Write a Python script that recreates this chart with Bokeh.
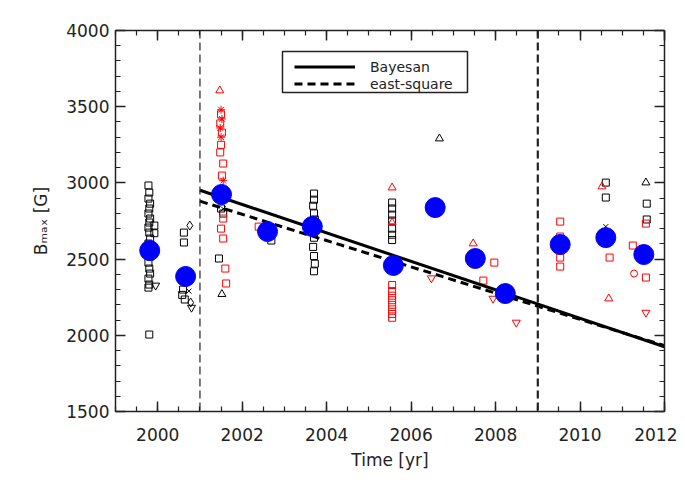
from bokeh.plotting import figure
from bokeh.models import (Range1d, LinearAxis, SingleIntervalTicker, CustomJSTickFormatter,
                          Legend, LegendItem, Span, BoxAnnotation)
from bokeh.embed import file_html
from bokeh.resources import INLINE

# ---------------- data ----------------
# yearly means (blue)
mean_x = [1999.81, 2000.66, 2001.51, 2002.60, 2003.66, 2005.58, 2006.57, 2007.52, 2008.23, 2009.53, 2010.61, 2011.51]
mean_y = [2556, 2386, 2924, 2681, 2714, 2458, 2838, 2504, 2274, 2596, 2641, 2530]

# black squares
bsq_x = [1999.78, 1999.80, 1999.78, 1999.82, 1999.80, 1999.78, 1999.82, 1999.80, 1999.78, 1999.80,
         1999.82, 1999.78, 1999.80, 1999.82, 1999.78, 1999.80, 1999.82, 1999.78, 1999.80, 1999.78,
         1999.80, 1999.92, 1999.92,
         2000.62, 2000.62, 2000.60, 2000.58, 2000.64,
         2001.50, 2001.55, 2001.45,
         2002.69,
         2003.70, 2003.70, 2003.68, 2003.70, 2003.72, 2003.70, 2003.68, 2003.70, 2003.72, 2003.70,
         2005.55, 2005.55, 2005.55, 2005.55, 2005.55, 2005.55, 2005.55,
         2010.61, 2010.61,
         2011.58, 2011.58]
bsq_y = [2983, 2937, 2897, 2864, 2832, 2799, 2766, 2740, 2707, 2674,
         2635, 2602, 2556, 2517, 2477, 2438, 2405, 2372, 2333, 2313,
         2005, 2720, 2670,
         2674, 2609, 2300, 2265, 2235,
         2832, 2799, 2504,
         2622,
         2930, 2890, 2850, 2800, 2760, 2640, 2580, 2520, 2470, 2420,
         2871, 2832, 2792, 2753, 2700, 2660, 2625,
         3002, 2904,
         2864, 2760]

# black triangles
btri_x = [2001.52, 2006.67, 2011.56]
btri_y = [2270, 3291, 3002]
# black inverted triangles
binv_x = [1999.95, 2000.80]
binv_y = [2327, 2182]
# black diamonds
bdia_x = [2000.76, 2000.78]
bdia_y = [2720, 2215]
# black crosses
bx_x = [2000.74, 2001.55, 2010.61]
bx_y = [2290, 2830, 2713]

# red squares
rsq_x = [2001.50, 2001.48, 2001.52, 2001.50, 2001.48, 2001.55, 2001.52,
         2001.55, 2001.50, 2001.55, 2001.60, 2001.62,
         2002.39,
         2005.55, 2005.55, 2005.55, 2005.55, 2005.55, 2005.55, 2005.55, 2005.55,
         2007.97, 2007.71,
         2009.53, 2009.53, 2009.53, 2009.53,
         2010.70,
         2011.56, 2011.25, 2011.56]
rsq_y = [3450, 3390, 3330, 3250, 3200, 3127, 3048,
         2766, 2700, 2635, 2438, 2340,
         2713,
         2330, 2290, 2260, 2230, 2200, 2170, 2140, 2115,
         2477, 2359,
         2746, 2648, 2510, 2451,
         2510,
         2733, 2589, 2379]
# red triangles
rtri_x = [2001.47, 2005.55, 2005.55, 2007.47, 2010.52, 2010.68]
rtri_y = [3606, 2969, 2740, 2602, 2976, 2241]
# red inverted triangles
rinv_x = [2006.48, 2007.94, 2008.49, 2011.56]
rinv_y = [2375, 2241, 2084, 2149]
# red asterisks
rast_x = [2001.50, 2001.52, 2001.48, 2001.50, 2001.55, 2001.52]
rast_y = [3480, 3420, 3360, 3300, 3015, 2960]
# red circles
rci_x = [2011.28]
rci_y = [2405]

# fits
bayes_x = [2001, 2012]
bayes_y = [2952, 1925]
lsq_x = [2001, 2012]
lsq_y = [2880, 1932]

# boundaries
bounds = [2001, 2009]

legend_labels = ["Bayesan", "east-square"]

FONT = "DejaVu Sans"
TXT = "#222222"

p = figure(frame_width=549, frame_height=381,
           min_border_left=115, min_border_top=30, min_border_right=13, min_border_bottom=60,
           x_range=Range1d(1999, 2012), y_range=Range1d(1500, 4000),
           x_axis_type=None, y_axis_type=None,
           output_backend="svg", toolbar_location=None)
p.outline_line_color = None
p.background_fill_color = "white"


def style_axis(ax, show_labels):
    ax.major_tick_in = 10
    ax.major_tick_out = 0
    ax.minor_tick_in = 5
    ax.minor_tick_out = 0
    ax.axis_line_width = 1.5
    ax.axis_line_color = "#222222"
    ax.major_tick_line_color = "#222222"
    ax.minor_tick_line_color = "#222222"
    ax.major_tick_line_width = 1.5
    ax.minor_tick_line_width = 1.2
    ax.major_label_text_font = FONT
    ax.major_label_text_font_size = "17px"
    ax.major_label_text_color = TXT
    ax.axis_label_text_font = FONT
    ax.axis_label_text_font_size = "17px"
    ax.axis_label_text_font_style = "normal"
    ax.axis_label_text_color = TXT
    if not show_labels:
        ax.formatter = CustomJSTickFormatter(code="return ''")
        ax.major_label_standoff = 0


xb = LinearAxis(ticker=SingleIntervalTicker(interval=2, num_minor_ticks=4), axis_label="Time [yr]")
style_axis(xb, True)
xb.major_label_standoff = 16
xb.axis_label_standoff = 6
p.add_layout(xb, "below")

xt = LinearAxis(ticker=SingleIntervalTicker(interval=2, num_minor_ticks=4))
style_axis(xt, False)
p.add_layout(xt, "above")

yl = LinearAxis(ticker=SingleIntervalTicker(interval=500, num_minor_ticks=5), axis_label="Bₘₐₓ [G]")
style_axis(yl, True)
yl.major_label_standoff = 6
yl.axis_label_standoff = 12
p.add_layout(yl, "left")

yr = LinearAxis(ticker=SingleIntervalTicker(interval=500, num_minor_ticks=5))
style_axis(yr, False)
p.add_layout(yr, "right")

for b, w in zip(bounds, [1.2, 2.2]):
    p.add_layout(Span(location=b, dimension="height", line_color="#222222",
                      line_width=w, line_dash="8 4"))

# individual measurements
p.scatter(bsq_x, bsq_y, marker="square", size=7, fill_color=None, line_color="black", line_width=1)
p.scatter(btri_x, btri_y, marker="triangle", size=8, fill_color=None, line_color="black", line_width=1)
p.scatter(binv_x, binv_y, marker="inverted_triangle", size=8, fill_color=None, line_color="black", line_width=1)
p.scatter(bdia_x, bdia_y, marker="diamond", size=9, fill_color=None, line_color="black", line_width=1)
p.scatter(bx_x, bx_y, marker="x", size=7, line_color="black", line_width=1)
p.scatter(rsq_x, rsq_y, marker="square", size=7, fill_color=None, line_color="red", line_width=1)
p.scatter(rtri_x, rtri_y, marker="triangle", size=8, fill_color=None, line_color="red", line_width=1)
p.scatter(rinv_x, rinv_y, marker="inverted_triangle", size=8, fill_color=None, line_color="red", line_width=1)
p.scatter(rast_x, rast_y, marker="asterisk", size=8, line_color="red", line_width=1)
p.scatter(rci_x, rci_y, marker="circle", size=7, fill_color=None, line_color="red", line_width=1)

# fits
r_bayes = p.line(bayes_x, bayes_y, line_color="black", line_width=3)
r_lsq = p.line(lsq_x, lsq_y, line_color="black", line_width=3, line_dash="8 5")

# means
p.scatter(mean_x, mean_y, marker="circle", size=20, fill_color="#0000ff", line_color="#0000ff")

# legend frame
p.add_layout(BoxAnnotation(left=2002.954, right=2007.335, top=3862, bottom=3593,
                           fill_color="white", fill_alpha=1,
                           line_color="#222222", line_alpha=1, line_width=1.5, level="overlay"))

legend = Legend(items=[LegendItem(label=legend_labels[0], renderers=[r_bayes]),
                       LegendItem(label=legend_labels[1], renderers=[r_lsq])],
                location=(179, 319))
legend.border_line_color = None
legend.background_fill_alpha = 0
legend.glyph_width = 61
legend.glyph_height = 17
legend.label_height = 17
legend.label_standoff = 15
legend.padding = 3
legend.spacing = 0
legend.margin = 0
legend.label_text_font = FONT
legend.label_text_font_size = "14px"
legend.label_text_color = TXT
legend.level = "overlay"
p.add_layout(legend, "center")

open("out.html", "w").write(file_html(p, INLINE))
